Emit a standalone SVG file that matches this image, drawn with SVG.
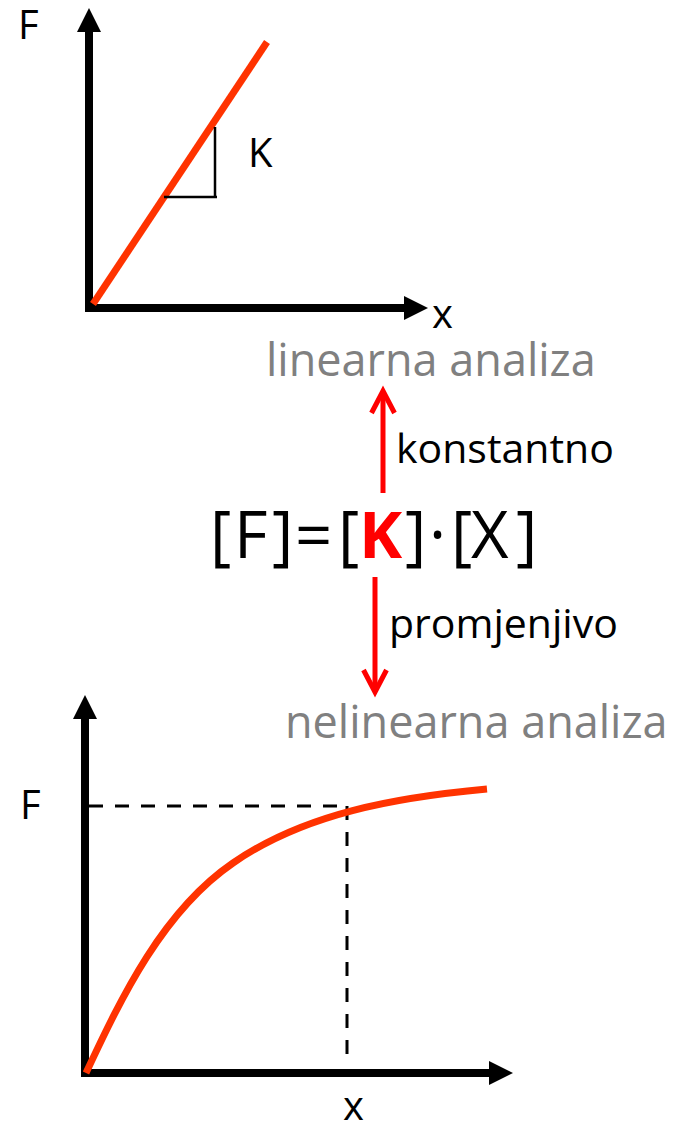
<svg xmlns="http://www.w3.org/2000/svg" width="684" height="1126" viewBox="0 0 684 1126">
<defs>
<style>
.lbl{font-family:"Open Sans","Liberation Sans",sans-serif;fill:#000}
.gray{font-family:"Open Sans","Liberation Sans",sans-serif;fill:#808080;font-size:45px}
.axis{stroke:#000;stroke-width:8;fill:none}
.curve{stroke:#FF3300;stroke-width:7;fill:none}
.dash{stroke:#000;stroke-width:3;stroke-dasharray:14 12;fill:none}
.redarrow{stroke:#FF0000;stroke-width:5;fill:none}
</style>
<marker id="axhead" markerUnits="userSpaceOnUse" markerWidth="26" markerHeight="26" viewBox="0 -13 26 26" refX="0" refY="0" orient="auto" overflow="visible">
<path d="M0,-12 L24,0 L0,12 Z" fill="#000"/>
</marker>
<marker id="chev" markerUnits="userSpaceOnUse" markerWidth="30" markerHeight="30" viewBox="-26 -15 30 30" refX="0" refY="0" orient="auto" overflow="visible">
<path d="M-22,-11.5 L0,0 L-22,11.5" fill="none" stroke="#FF0000" stroke-width="5"/>
</marker>
</defs>
<rect width="684" height="1126" fill="#fff"/>

<g id="linear-graph">
<line class="axis" x1="89" y1="312" x2="89" y2="32" marker-end="url(#axhead)"/>
<line class="axis" x1="85" y1="308" x2="404" y2="308" marker-end="url(#axhead)"/>
<line class="curve" x1="93" y1="304" x2="267" y2="42"/>
<path d="M215,127 L215,197 M164,197 L217,197" stroke="#000" stroke-width="2.5" fill="none"/>
<text class="lbl" x="18" y="39" font-size="40">F</text>
<text class="lbl" x="248" y="167" font-size="40">K</text>
<text class="lbl" x="432" y="328" font-size="40">x</text>
</g>

<g id="label-linear">
<text class="gray" x="266" y="376">linearna analiza</text>
</g>

<g id="equation">
<text class="lbl" y="558" font-size="65"><tspan x="210">[</tspan><tspan x="234">F</tspan><tspan x="272">]</tspan><tspan x="295">=</tspan><tspan x="338">[</tspan><tspan x="359" fill="#FF0000" font-weight="bold">K</tspan><tspan x="405">]</tspan><tspan x="429">·</tspan><tspan x="451">[</tspan><tspan x="471">X</tspan><tspan x="516">]</tspan></text>
</g>

<g id="connectors">
<line class="redarrow" x1="383" y1="493" x2="383" y2="391" marker-end="url(#chev)"/>
<line class="redarrow" x1="375" y1="577" x2="375" y2="692" marker-end="url(#chev)"/>
<text class="lbl" x="396" y="463" font-size="41">konstantno</text>
<text class="lbl" x="389" y="638" font-size="41">promjenjivo</text>
</g>

<g id="label-nonlinear">
<text class="gray" x="285" y="738">nelinearna analiza</text>
</g>

<g id="nonlinear-graph">
<line class="axis" x1="85" y1="1077" x2="85" y2="719" marker-end="url(#axhead)"/>
<line class="axis" x1="81" y1="1073" x2="489" y2="1073" marker-end="url(#axhead)"/>
<path class="dash" d="M89,806 L348,806"/>
<path class="dash" d="M347,806 L347,1057"/>
<path class="curve" d="M86,1073 C122,996 163,911 233,863 C304.5,813.5 395.4,797.4 487,789"/>
<text class="lbl" x="20" y="819" font-size="40">F</text>
<text class="lbl" x="343" y="1120" font-size="40">x</text>
</g>
</svg>
